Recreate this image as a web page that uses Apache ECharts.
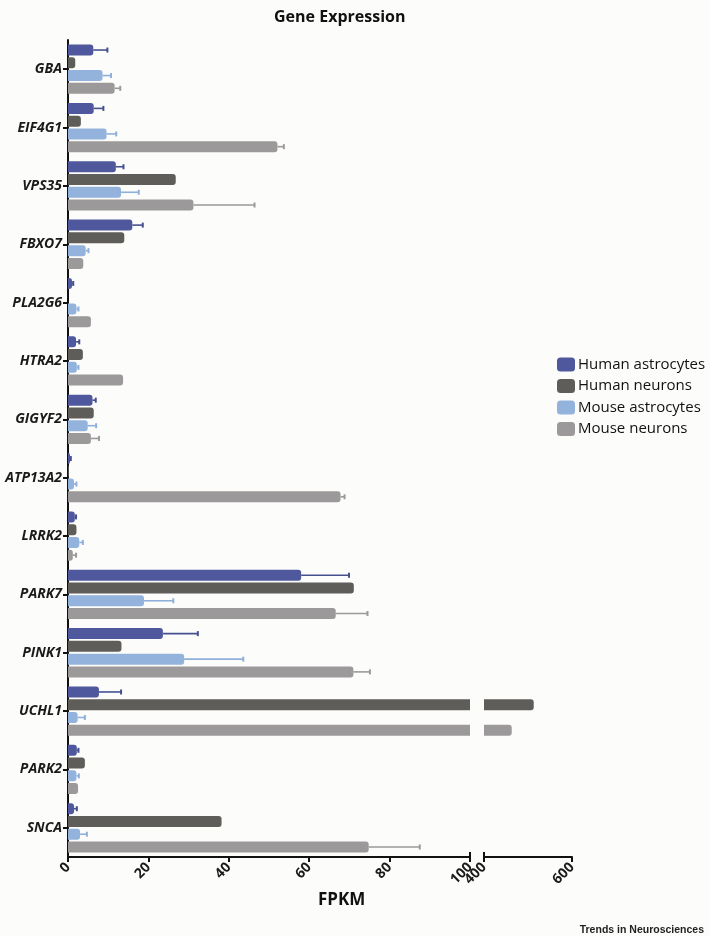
<!DOCTYPE html>
<html>
<head>
<meta charset="utf-8">
<script src="https://cdn.jsdelivr.net/npm/echarts@6/dist/echarts.min.js"></script>
<style>
html,body{margin:0;padding:0;background:#fcfcfa;}
#chart{width:710px;height:936px;}
</style>
</head>
<body>
<div id="chart"></div>
<script>
// ---- Data ----
const categories = ['GBA','EIF4G1','VPS35','FBXO7','PLA2G6','HTRA2','GIGYF2','ATP13A2','LRRK2','PARK7','PINK1','UCHL1','PARK2','SNCA'];
const seriesNames = ['Human astrocytes','Human neurons','Mouse astrocytes','Mouse neurons'];
const humanAstro     = [6.3, 6.4, 11.9, 16.0, 1.0, 2.0, 6.1, 0.5, 1.7, 58.0, 23.6, 7.7, 2.2, 1.5];
const humanAstroErr  = [9.8, 8.8, 13.8, 18.6, 1.3, 2.8, 6.9, 0.7, 2.0, 69.9, 32.3, 13.2, 2.6, 2.2];
const humanNeuron    = [1.8, 3.2, 26.8, 14.0, 0, 3.7, 6.4, 0.2, 2.1, 71.1, 13.3, 513, 4.2, 38.2];
const humanNeuronErr = [null,null,null,null,null,null,null,null,null,null,null,null,null,null];
const mouseAstro     = [8.6, 9.6, 13.2, 4.4, 2.1, 2.2, 4.9, 1.5, 2.8, 18.9, 28.9, 2.4, 2.1, 3.0];
const mouseAstroErr  = [10.7, 12.0, 17.6, 5.1, 2.6, 2.6, 7.0, 2.1, 3.7, 26.2, 43.6, 4.2, 2.7, 4.7];
const mouseNeuron    = [11.6, 52.1, 31.2, 3.8, 5.7, 13.7, 5.7, 67.8, 1.2, 66.6, 71.0, 463, 2.5, 74.8];
const mouseNeuronErr = [13.0, 53.7, 46.4, null, null, null, 7.7, 68.8, 2.0, 74.5, 75.1, null, null, 87.5];
const lowTicks  = [0, 20, 40, 60, 80, 100];
const highTicks = [400, 600];

// ---- Styling ----
const colors    = ['#4f589c', '#5f5d5a', '#93b3dc', '#9b9999'];
const errColors = ['#45508f', '#5f5d5a', '#8fb0da', '#9b9999'];
const FONT = "'Open Sans', sans-serif";
const GRID_TOP = 40, GRID_H = 817, G1_LEFT = 68, G1_W = 402, G2_LEFT = 484, G2_W = 88;
const BAR_W = 11, BAR_GAP_PCT = 16;
const STEP = BAR_W * (1 + BAR_GAP_PCT / 100);

const valuesList = [humanAstro, humanNeuron, mouseAstro, mouseNeuron];
const errList = [humanAstroErr, humanNeuronErr, mouseAstroErr, mouseNeuronErr];
const lowMax = lowTicks[lowTicks.length - 1];

const series = [];
// Lower segment (0-100)
valuesList.forEach((vals, s) => {
  series.push({
    type: 'bar', name: seriesNames[s], xAxisIndex: 0, yAxisIndex: 0,
    barWidth: BAR_W, barGap: BAR_GAP_PCT + '%', clip: true,
    itemStyle: { color: colors[s], borderRadius: [0, 3, 3, 0] },
    data: vals.map(v => v > lowMax ? { value: v, itemStyle: { borderRadius: 0 } } : v),
    z: 2
  });
});
// Upper segment (400-600)
valuesList.forEach((vals, s) => {
  series.push({
    type: 'bar', name: seriesNames[s], xAxisIndex: 1, yAxisIndex: 1,
    barWidth: BAR_W, barGap: BAR_GAP_PCT + '%', clip: true,
    itemStyle: { color: colors[s], borderRadius: [0, 3, 3, 0] },
    data: vals.map(v => v > lowMax ? v : '-'),
    z: 2
  });
});
// Error bars (upper whisker only)
errList.forEach((errs, s) => {
  const d = [];
  errs.forEach((e, i) => { if (e != null) d.push([i, valuesList[s][i], e]); });
  if (!d.length) return;
  series.push({
    type: 'custom', name: 'err' + s, xAxisIndex: 0, yAxisIndex: 0,
    encode: { y: 0, x: [1, 2] }, z: 5, silent: true,
    renderItem: function (params, api) {
      const cat = api.value(0);
      const p0 = api.coord([api.value(1), cat]);
      const p1 = api.coord([api.value(2), cat]);
      const y = p0[1] + (s - 1.5) * STEP;
      return {
        type: 'group',
        children: [
          { type: 'line', shape: { x1: p0[0], y1: y, x2: p1[0], y2: y }, style: { stroke: errColors[s], lineWidth: 1.6 } },
          { type: 'line', shape: { x1: p1[0], y1: y - 2.5, x2: p1[0], y2: y + 2.5 }, style: { stroke: errColors[s], lineWidth: 2 } }
        ]
      };
    },
    data: d
  });
});

const axisLabelX = { rotate: 45, fontSize: 14, fontWeight: 'bold', color: '#1a1a1a', fontFamily: FONT, margin: 8 };

const option = {
  backgroundColor: '#fcfcfa',
  animation: false,
  title: [
    { text: 'Gene Expression', left: 269, top: 4, textStyle: { fontSize: 16, fontWeight: 'bold', color: '#111', fontFamily: FONT } },
    { text: 'FPKM', left: 313, top: 887, textStyle: { fontSize: 17, fontWeight: 'bold', color: '#111', fontFamily: FONT } },
    { text: 'Trends in Neurosciences', right: 1, top: 920, textStyle: { fontSize: 10.5, fontWeight: 'bold', color: '#222', fontFamily: "'Liberation Sans', Arial, sans-serif" } }
  ],
  legend: {
    data: seriesNames, orient: 'vertical', left: 552, top: 352,
    itemWidth: 18, itemHeight: 14, itemGap: 6.5, icon: 'roundRect',
    textStyle: { fontSize: 15, color: '#111', fontFamily: FONT, padding: [0, 0, 0, -2] }
  },
  grid: [
    { left: G1_LEFT, top: GRID_TOP, width: G1_W, height: GRID_H, containLabel: false },
    { left: G2_LEFT, top: GRID_TOP, width: G2_W, height: GRID_H, containLabel: false }
  ],
  xAxis: [
    { gridIndex: 0, type: 'value', min: lowTicks[0], max: lowMax, interval: lowTicks[1] - lowTicks[0],
      splitLine: { show: false },
      axisLine: { show: true, lineStyle: { color: '#111', width: 2 } },
      axisTick: { show: true, length: 5, lineStyle: { color: '#111', width: 2 } },
      axisLabel: axisLabelX },
    { gridIndex: 1, type: 'value', min: highTicks[0], max: highTicks[1], interval: highTicks[1] - highTicks[0],
      splitLine: { show: false },
      axisLine: { show: true, lineStyle: { color: '#111', width: 2 } },
      axisTick: { show: true, length: 5, lineStyle: { color: '#111', width: 2 } },
      axisLabel: axisLabelX }
  ],
  yAxis: [
    { gridIndex: 0, type: 'category', data: categories, inverse: true,
      axisLine: { show: true, lineStyle: { color: '#111', width: 2 } },
      axisTick: { show: true, alignWithLabel: true, length: 5, lineStyle: { color: '#111', width: 2 } },
      axisLabel: { fontSize: 14, fontWeight: 'bold', fontStyle: 'italic', color: '#1a1a1a', fontFamily: FONT, margin: 6 } },
    { gridIndex: 1, type: 'category', data: categories, inverse: true, show: false }
  ],
  series: series
};

const chart = echarts.init(document.getElementById('chart'), null, { renderer: 'canvas' });
chart.setOption(option);

// Axis-break marks at the ends of the two segments
const axisY = GRID_TOP + GRID_H;
const xBreakLow = chart.convertToPixel({ xAxisIndex: 0 }, lowMax);
const xBreakHigh = chart.convertToPixel({ xAxisIndex: 1 }, highTicks[0]);
chart.setOption({
  graphic: [xBreakLow, xBreakHigh].map(x => ({
    type: 'line', shape: { x1: x, y1: axisY - 5, x2: x, y2: axisY + 5 },
    style: { stroke: '#111', lineWidth: 2 }, z: 10
  }))
});
</script>
</body>
</html>
